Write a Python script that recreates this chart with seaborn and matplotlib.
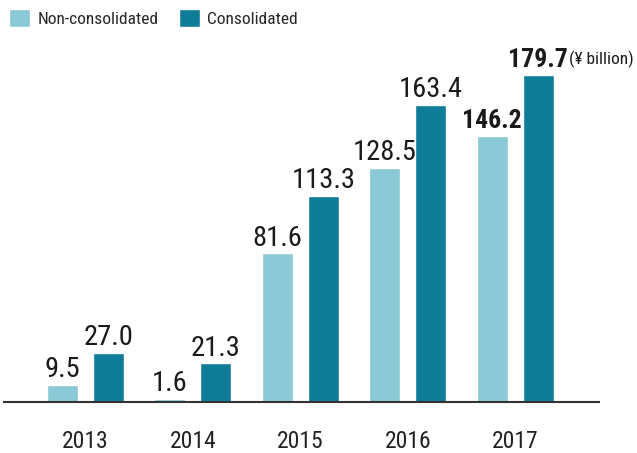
import numpy as np
import pandas as pd
import matplotlib
matplotlib.use("Agg")
import matplotlib.pyplot as plt
import seaborn as sns
from matplotlib import font_manager as fm

years = ["2013", "2014", "2015", "2016", "2017"]
non_consolidated = [9.5, 1.6, 81.6, 128.5, 146.2]
consolidated = [27.0, 21.3, 113.3, 163.4, 179.7]
series_names = ["Non-consolidated", "Consolidated"]
unit_label = "(¥ billion)"

colors = {"Non-consolidated": "#8BC9D6", "Consolidated": "#0F7C98"}

sns.set_theme(style="white")
names = {f.name for f in fm.fontManager.ttflist}
family = "DejaVu Sans"
for cand in ["Liberation Sans Narrow", "Roboto Condensed", "Pragati Narrow", "Archivo Narrow",
             "Arimo Narrow", "Encode Sans Condensed", "IBM Plex Sans Condensed", "PT Sans Narrow"]:
    if cand in names:
        family = cand
        break
plt.rcParams["font.family"] = [family, "DejaVu Sans"]

df = pd.DataFrame({
    "year": years * 2,
    "value": non_consolidated + consolidated,
    "series": [series_names[0]] * len(years) + [series_names[1]] * len(years),
})

W, H = 637, 453
fig = plt.figure(figsize=(W / 100, H / 100), dpi=100)
ax = fig.add_axes([4 / W, (H - 402) / H, 595.5 / W, 362 / H])

sns.barplot(data=df, x="year", y="value", hue="series", hue_order=series_names,
            order=years, palette=colors, width=0.856, gap=0.327,
            saturation=1, ax=ax, legend=True)

ax.set_xlim(-0.759, 4.786)
ax.set_ylim(0, 362 / 1.82)
ax.set_xlabel("")
ax.set_ylabel("")
ax.set_yticks([])
for s in ["left", "right", "top"]:
    ax.spines[s].set_visible(False)
ax.spines["bottom"].set_color("#333333")
ax.spines["bottom"].set_linewidth(1.5)
ax.tick_params(axis="x", length=0, pad=20, labelsize=17, labelcolor="#222222")

# value labels
for ci, container in enumerate(ax.containers):
    vals = [non_consolidated, consolidated][ci]
    for i, (bar, v) in enumerate(zip(container, vals)):
        bold = (i == len(years) - 1)
        t = ax.annotate(f"{v:.1f}", xy=(bar.get_x() + bar.get_width() / 2, bar.get_height()),
                        xytext=(0, 5.5), textcoords="offset points", ha="center", va="baseline",
                        fontsize=18.5 if bold else 20.5,
                        fontweight="bold" if bold else "normal", color="#1a1a1a")
        if bold and ci == 1:
            ax.annotate(unit_label, xy=(1, 0), xycoords=t, xytext=(1, 3),
                        textcoords="offset points", ha="left", va="bottom",
                        fontsize=12.5, color="#1a1a1a")

handles, labels = ax.get_legend_handles_labels()
ax.get_legend().remove()
fig.legend(handles, labels, loc="upper left", bbox_to_anchor=(9 / W, 1 - 9 / H),
           ncol=2, frameon=False, fontsize=12.5, handlelength=1.2, handleheight=1.2,
           handletextpad=0.45, columnspacing=1.15, borderpad=0, borderaxespad=0)

fig.savefig("out.png", dpi=100)
